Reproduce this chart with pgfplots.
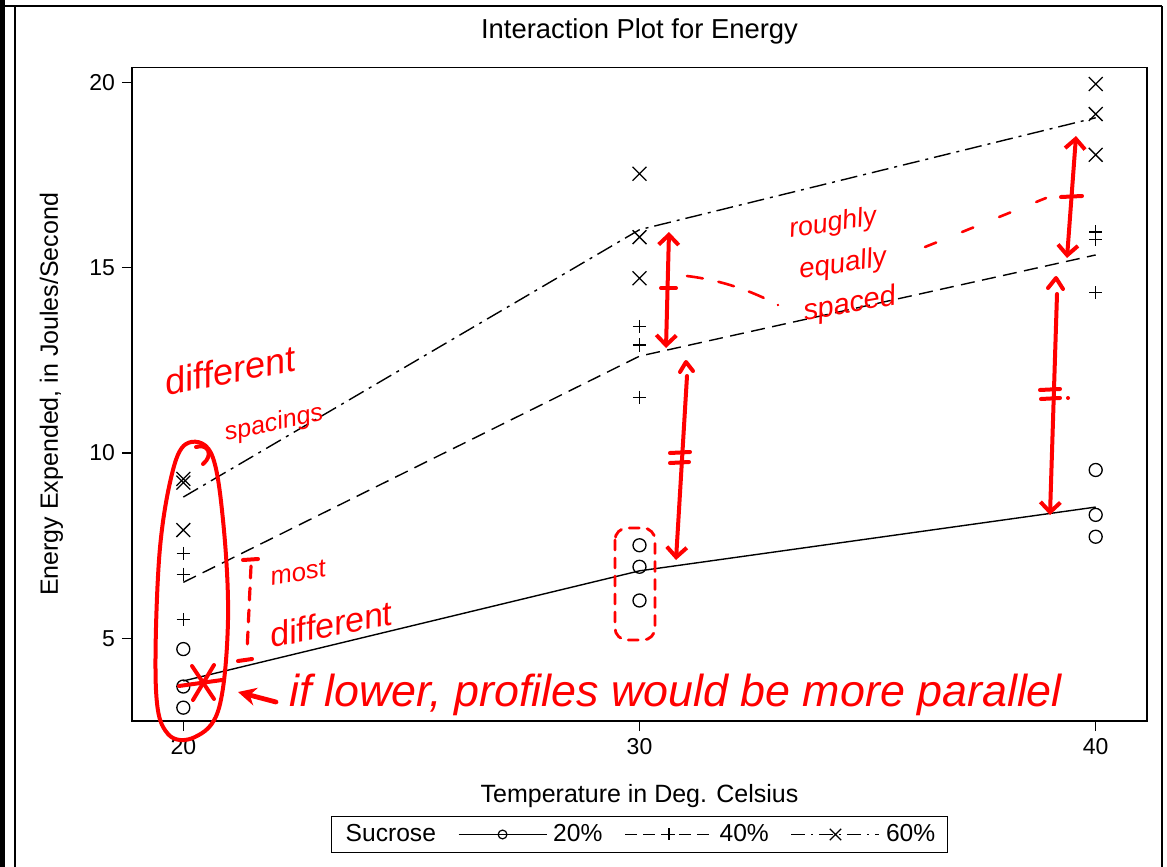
\documentclass[border=0pt]{standalone}
\usepackage{pgfplots}
\pgfplotsset{compat=1.18}
\usepackage{fontspec}
\setmainfont{Liberation Sans}
\usepackage{graphicx}
\usetikzlibrary{arrows.meta}
\newcommand{\hw}[2]{\resizebox{#1}{!}{\itshape #2}}
\begin{document}
\begin{tikzpicture}
\useasboundingbox (0,0) rectangle (583.5pt,-433.5pt);
\begin{scope}[x=0.5pt,y=-0.5pt]
 \fill[black] (0,0) rectangle (5,867);
 \draw[line width=1.1pt] (0,6)--(1162,6);
 \draw[line width=0.8pt] (15,6)--(15,867);
 \draw[line width=0.8pt] (1162,6)--(1162,867);
\end{scope}
\begin{axis}[
  at={(66pt,-360.5pt)}, anchor=south west,
  scale only axis, width=507.5pt, height=326.65pt,
  xmin=18.875, xmax=41.125, ymin=2.77, ymax=20.39,
  xtick={20,30,40}, ytick={5,10,15,20},
  tick pos=left, tick align=outside, major tick length=5pt,
  every tick/.style={black, line width=0.6pt},
  axis line style={black, line width=0.7pt},
  ticklabel style={font=\fontsize{11.5}{13}\selectfont},
  /pgf/number format/assume math mode=true,
  title={Interaction Plot for Energy},
  title style={at={(axis description cs:0.5,1.0256)}, anchor=base, font=\fontsize{13.7}{16}\selectfont, inner sep=0pt},
  xlabel={Temperature in Deg. Celsius},
  xlabel style={at={(axis description cs:0.5,-0.124)}, anchor=base, font=\fontsize{12.5}{15}\selectfont, inner sep=0pt},
  ylabel={Energy Expended, in Joules/Second},
  ylabel style={at={(axis description cs:-0.0729,0.5)}, anchor=base, font=\fontsize{12.5}{15}\selectfont, inner sep=0pt},
  legend columns=4,
  legend style={at={(0.5,-0.1737)}, anchor=center, draw=black, line width=0.6pt,
    font=\fontsize{12.3}{14}\selectfont, inner xsep=4pt, inner ysep=2pt,
    /tikz/every even column/.append style={column sep=9pt},
    /tikz/every odd column/.append style={column sep=1pt},
    /tikz/column 2/.style={column sep=16pt}},
  legend image code/.code={\draw[#1, mark repeat=2, mark phase=2] plot coordinates {(0pt,0pt) (22pt,0pt) (44pt,0pt)};},
]
\addlegendimage{empty legend}\addlegendentry{Sucrose}
\addlegendimage{black, solid, line width=0.6pt, mark=o, mark size=2.2pt, mark options={solid}}\addlegendentry{20\%}
\addlegendimage{black, dash pattern=on 6pt off 3pt, line width=0.6pt, mark=+, mark size=3pt, mark options={solid}}\addlegendentry{40\%}
\addlegendimage{black, dash pattern=on 7pt off 3pt on 1pt off 3pt, line width=0.6pt, mark=x, mark size=4pt, mark options={solid}}\addlegendentry{60\%}

% raw observations
\addplot[forget plot, only marks, mark=o, mark size=3.25pt, black, line width=0.65pt] coordinates {
 (20,4.71) (20,3.70) (20,3.13) (30,7.51) (30,6.93) (30,6.02) (40,9.54) (40,8.33) (40,7.74)};
\addplot[forget plot, only marks, mark=+, mark size=3.3pt, black, line width=0.65pt] coordinates {
 (20,7.29) (20,6.73) (20,5.51) (30,13.41) (30,12.91) (30,11.50) (40,15.96) (40,15.75) (40,14.32)};
\addplot[forget plot, only marks, mark=x, mark size=4.9pt, black, line width=0.65pt] coordinates {
 (20,9.30) (20,9.20) (20,7.92) (30,17.53) (30,15.82) (30,14.71) (40,19.95) (40,19.14) (40,18.04)};
% means
\addplot[forget plot, no marks, black, line width=0.7pt, solid] coordinates {(20,3.85) (30,6.82) (40,8.54)};
\addplot[forget plot, no marks, black, line width=0.7pt, dash pattern=on 7pt off 3.75pt] coordinates {(20,6.51) (30,12.61) (40,15.34)};
\addplot[forget plot, no marks, black, line width=0.7pt, dash pattern=on 8.5pt off 3pt on 1.5pt off 3pt] coordinates {(20,8.81) (30,16.02) (40,19.04)};
\end{axis}
\begin{scope}[x=0.5pt,y=-0.5pt, red, line width=2pt, line cap=round, line join=round]
% loop around 20
\draw plot[smooth cycle, tension=0.6] coordinates {(186,444) (211,453) (223,520) (228,620) (219,708) (195,737) (168,734) (156,690) (159,560) (171,478)};
\draw (196,447) .. controls (208,443) and (214,455) .. (203,464);
\node[rotate=11, inner sep=0pt] at (230,370) {\hw{66pt}{different}};
\node[rotate=12, inner sep=0pt] at (274,424) {\hw{50pt}{spacings}};
% dotted bracket
\draw (243,560)--(258,559);
\draw[dash pattern=on 6pt off 5pt, line width=1.6pt] (251,566)--(247,652);
\draw (238,661)--(252,659);
\node[rotate=10,inner sep=0pt] at (298,573) {\hw{28pt}{most}};
\node[rotate=11,inner sep=0pt] at (331,624) {\hw{62pt}{different}};
% star
\draw (192,666)--(214,699);
\draw (214,665)--(193,700);
\draw (179,686)--(222,680);
% arrow
\draw[-{Stealth[length=9pt,width=9pt]}, line width=2.4pt] (276,702)--(238,692);
\node[inner sep=0pt] at (676,695) {\hw{386pt}{if lower, profiles would be more parallel}};
% box around 30 circles
\draw[rounded corners=6pt, dash pattern=on 5pt off 4pt, line width=1.4pt] (615,528) rectangle (655,640);
% arrows at 30
\draw[{Straight Barb[length=5pt,width=10pt]}-{Straight Barb[length=5pt,width=10pt]}] (669,232)--(666,348);
\draw (661,288)--(676,288);
\draw (680,372)--(686,362)--(693,371);
\draw[-{Straight Barb[length=5pt,width=10pt]}] (687,376)--(676,560);
\draw (670,453)--(690,452);
\draw (670,463)--(689,462);
% arrows at 40
\draw[{Straight Barb[length=5pt,width=10pt]}-{Straight Barb[length=5pt,width=10pt]}] (1076,136)--(1067,258);
\draw (1061,197)--(1082,196);
\draw (1048,288)--(1056,278)--(1063,289);
\draw[-{Straight Barb[length=5pt,width=10pt]}] (1057,294)--(1050,515);
\draw (1040,390)--(1060,389);
\draw (1041,399)--(1060,398);
\fill (1068,398) circle (2);
% roughly equally spaced
\node[rotate=9, inner sep=0pt] at (833,224) {\hw{44pt}{roughly}};
\node[rotate=9, inner sep=0pt] at (843,265) {\hw{44pt}{equally}};
\node[rotate=10, inner sep=0pt] at (850,305) {\hw{47pt}{spaced}};
\draw[dash pattern=on 8pt off 8pt, line width=1.3pt] (687,276) .. controls (720,280) and (750,290) .. (778,305);
\draw[dash pattern=on 6pt off 14pt, line width=1.3pt] (925,247) -- (1046,198);
\end{scope}
\end{tikzpicture}
\end{document}
